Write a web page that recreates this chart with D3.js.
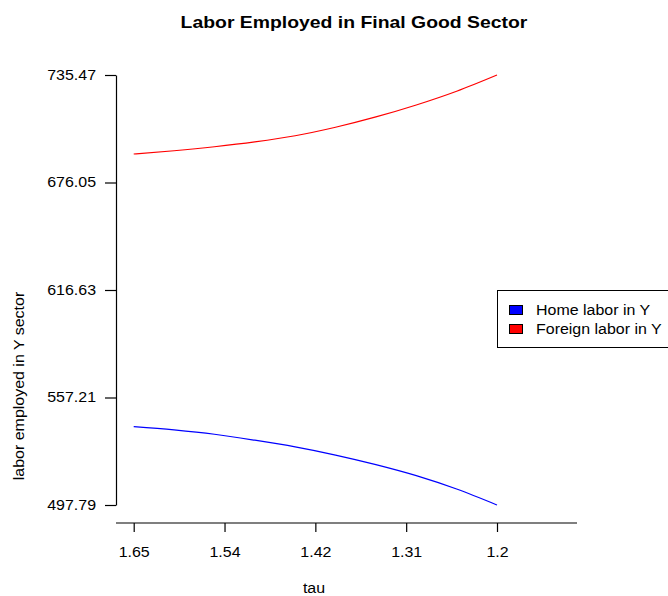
<!DOCTYPE html>
<html>
<head>
<meta charset="utf-8">
<script src="https://cdn.jsdelivr.net/npm/d3@7"></script>
<style>
  body { margin: 0; background: #fff; }
  svg { display: block; font-family: "Liberation Sans", Arial, sans-serif; }
</style>
</head>
<body>
<svg id="chart" width="668" height="596"></svg>
<script>
// tau grid (decreasing) and labour employed in the final good sector
const tau = [1.65, 1.60, 1.55, 1.50, 1.45, 1.40, 1.35, 1.30, 1.25, 1.20];
const homeLabor = [541.1, 539.3, 536.9, 533.6, 529.9, 525.4, 520.1, 514.0, 506.6, 497.79];
const foreignLabor = [691.8, 693.6, 695.8, 698.5, 701.9, 706.6, 712.3, 718.9, 726.5, 735.47];

const xTickValues = [1.65, 1.5375, 1.425, 1.3125, 1.2];
const xTickLabels = ["1.65", "1.54", "1.42", "1.31", "1.2"];
const yTickValues = [497.79, 557.21, 616.63, 676.05, 735.47];
const yTickLabels = ["497.79", "557.21", "616.63", "676.05", "735.47"];

const seriesNames = ["Home labor in Y", "Foreign labor in Y"];
const seriesColors = ["#0000ff", "#ff0000"];

const FONT = "'Liberation Sans', Arial, sans-serif";
const svg = d3.select("#chart");

const x = d3.scaleLinear().domain([1.65, 1.2]).range([133.7, 497]);
const y = d3.scaleLinear().domain([497.79, 735.47]).range([505, 75]);

// title
svg.append("text")
  .attr("x", 354).attr("y", 28)
  .attr("text-anchor", "middle")
  .attr("font-size", 17).attr("font-weight", "bold")
  .text("Labor Employed in Final Good Sector");

// y axis
const yAxis = svg.append("g").attr("transform", "translate(116,0)")
  .call(d3.axisLeft(y).tickValues(yTickValues)
    .tickFormat((d, i) => yTickLabels[i]).tickSize(11).tickSizeOuter(0).tickPadding(9));
yAxis.select(".domain").attr("stroke", "#000").attr("stroke-width", 1.2);
yAxis.selectAll(".tick line").attr("stroke", "#000").attr("stroke-width", 1.2);
yAxis.selectAll("text").attr("font-size", 14).attr("fill", "#000").attr("font-family", FONT);

// x axis
const xAxis = svg.append("g").attr("transform", "translate(0,523)")
  .call(d3.axisBottom(x).tickValues(xTickValues)
    .tickFormat((d, i) => xTickLabels[i]).tickSize(9).tickSizeOuter(0).tickPadding(15));
xAxis.select(".domain").remove();
xAxis.append("line").attr("x1", 116).attr("x2", 577).attr("y1", 0).attr("y2", 0)
  .attr("stroke", "#000").attr("stroke-width", 1.2);
xAxis.selectAll(".tick line").attr("stroke", "#000").attr("stroke-width", 1.2);
xAxis.selectAll("text").attr("font-size", 14).attr("fill", "#000").attr("font-family", FONT);

// axis titles
svg.append("text")
  .attr("x", 314).attr("y", 593)
  .attr("text-anchor", "middle").attr("font-size", 14)
  .text("tau");
svg.append("text")
  .attr("transform", "translate(24,386) rotate(-90)")
  .attr("text-anchor", "middle").attr("font-size", 14)
  .text("labor employed in Y sector");

// series lines
const line = d3.line().curve(d3.curveMonotoneX).x(d => x(d[0])).y(d => y(d[1]));
[homeLabor, foreignLabor].forEach((vals, i) => {
  svg.append("path")
    .datum(tau.map((t, j) => [t, vals[j]]))
    .attr("fill", "none")
    .attr("stroke", seriesColors[i])
    .attr("stroke-width", 1.2)
    .attr("d", line);
});

// legend
const legend = svg.append("g");
legend.append("rect")
  .attr("x", 497.5).attr("y", 290.5).attr("width", 220).attr("height", 57)
  .attr("fill", "#fff").attr("stroke", "#000").attr("stroke-width", 1);
seriesNames.forEach((name, i) => {
  const cy = 310 + i * 19;
  legend.append("rect")
    .attr("x", 509.5).attr("y", cy - 4.5).attr("width", 13).attr("height", 9)
    .attr("fill", seriesColors[i]).attr("stroke", "#000").attr("stroke-width", 1);
  legend.append("text")
    .attr("x", 536).attr("y", cy).attr("dy", "0.35em")
    .attr("font-size", 14).text(name);
});

// widen all labels slightly for a broader set width
svg.selectAll("text").each(function () {
  const w = this.getComputedTextLength();
  d3.select(this).attr("textLength", w * 1.14).attr("lengthAdjust", "spacingAndGlyphs");
});
</script>
</body>
</html>
